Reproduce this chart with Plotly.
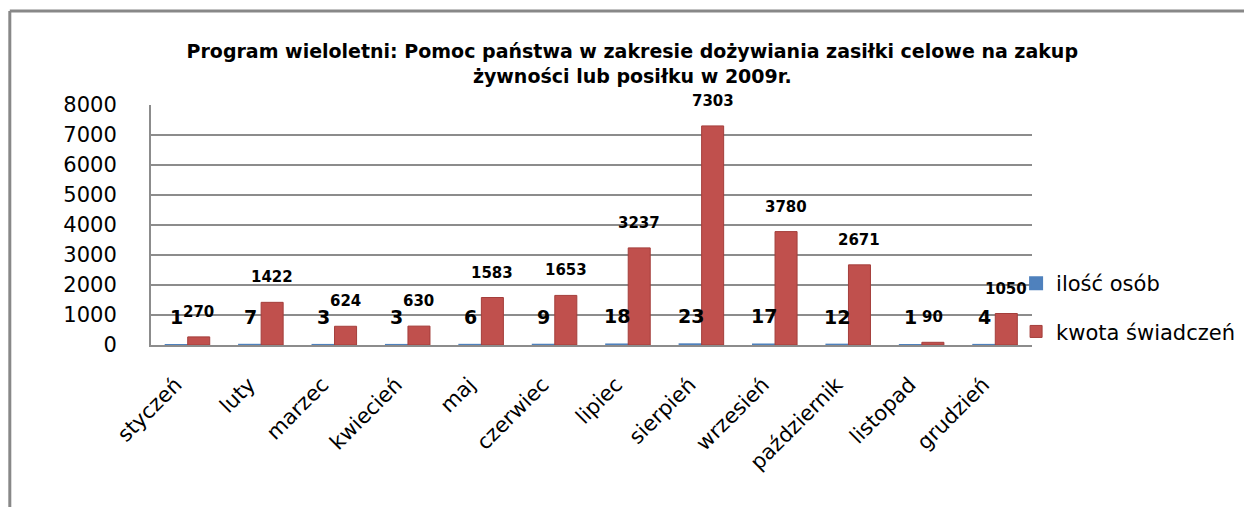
import plotly.graph_objects as go

months = ["styczeń", "luty", "marzec", "kwiecień", "maj", "czerwiec", "lipiec",
          "sierpień", "wrzesień", "październik", "listopad", "grudzień"]
ilosc_osob = [1, 7, 3, 3, 6, 9, 18, 23, 17, 12, 1, 4]
kwota_swiadczen = [270, 1422, 624, 630, 1583, 1653, 3237, 7303, 3780, 2671, 90, 1050]
y_ticks = [0, 1000, 2000, 3000, 4000, 5000, 6000, 7000, 8000]

BLUE = "#4F81BD"
RED = "#C0504D"
GRID = "#8C8C8C"
FONT = "DejaVu Sans"

# page offset (body margin of the html page)
OFF = 8
W, H = 1252 - OFF, 507 - OFF
# plot area in page coordinates
PL, PR, PT, PB = 151, 1037, 105, 345
L, R, T, B = PL - OFF, W - (PR - OFF), PT - OFF, H - (PB - OFF)
pw, ph = PR - PL, PB - PT


def px(x):
    return (x - PL) / pw


def py(y):
    return (PB - y) / ph


fig = go.Figure()
fig.add_trace(go.Bar(x=months, y=ilosc_osob, name="ilość osób",
                     marker=dict(color=BLUE, line=dict(color=BLUE, width=2)),
                     legendgroup="a"))
fig.add_trace(go.Bar(x=months, y=kwota_swiadczen, name="kwota świadczeń",
                     marker=dict(color=RED, line=dict(color="#A43E3B", width=1)),
                     legendgroup="b"))

annotations = []
for m, v in zip(months, ilosc_osob):
    annotations.append(dict(x=m, y=v, xref="x", yref="y", text=str(v), showarrow=False,
                            xshift=-11, yshift=28,
                            font=dict(family=FONT, size=19, color="black", weight="bold"),
                            yanchor="middle"))
for m, v in zip(months, kwota_swiadczen):
    annotations.append(dict(x=m, y=v, xref="x", yref="y", text=str(v), showarrow=False,
                            xshift=11, yshift=25,
                            font=dict(family=FONT, size=15, color="black", weight="bold"),
                            yanchor="middle"))

shapes = [
    dict(type="line", xref="paper", yref="paper", x0=px(9), x1=px(9), y0=py(11), y1=py(530),
         line=dict(color="#888888", width=3)),
    dict(type="line", xref="paper", yref="paper", x0=px(9), x1=px(1270), y0=py(11), y1=py(11),
         line=dict(color="#888888", width=3)),
]

fig.update_layout(
    width=W, height=H,
    margin=dict(l=L, r=R, t=T, b=B),
    paper_bgcolor="white", plot_bgcolor="white",
    barmode="group", bargap=0.4, bargroupgap=0,
    title=dict(text="Program wieloletni: Pomoc państwa w zakresie dożywiania zasiłki celowe na zakup<br>żywności lub posiłku w 2009r.",
               x=px(635), xref="paper", xanchor="center", y=1 - (58 - OFF) / H, yanchor="middle",
               font=dict(family=FONT, size=19, color="black", weight="bold")),
    font=dict(family=FONT, color="black"),
    xaxis=dict(tickangle=-45, tickfont=dict(family=FONT, size=21), showgrid=False,
               showline=True, linecolor=GRID, linewidth=2, ticks="",
               ticklabelstandoff=17, ticklabelshift=-12),
    yaxis=dict(range=[0, 8000], tickvals=y_ticks, tickfont=dict(family=FONT, size=21),
               showgrid=True, gridcolor=GRID, gridwidth=2, showline=True, linecolor=GRID,
               linewidth=2, zeroline=False, ticks="", ticklabelstandoff=28),
    legend=dict(x=px(1021), y=py(263), xanchor="left", yanchor="top",
                font=dict(family=FONT, size=21), tracegroupgap=18,
                bgcolor="rgba(0,0,0,0)", itemwidth=30),
    annotations=annotations,
    shapes=shapes,
    showlegend=True,
)

fig.write_html("out.html")
